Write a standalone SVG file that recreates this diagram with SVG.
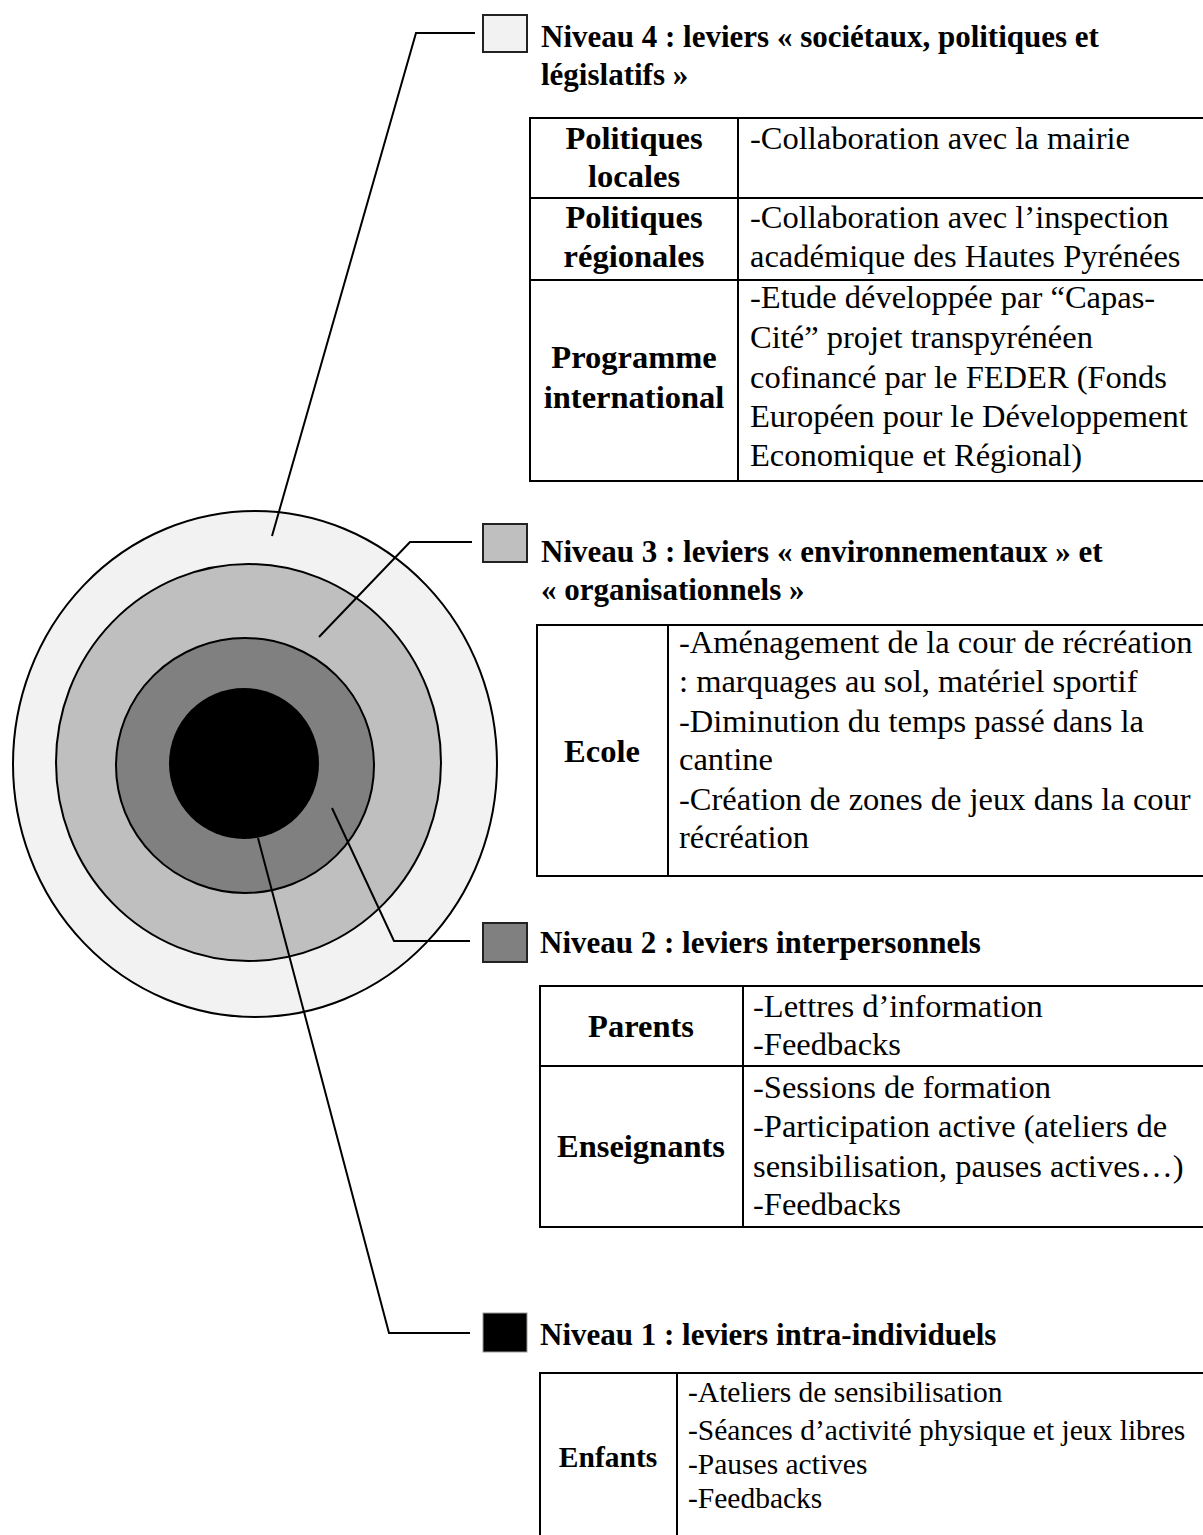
<svg xmlns="http://www.w3.org/2000/svg" width="1203" height="1535" viewBox="0 0 1203 1535">
<style>
.h{font-family:"Liberation Serif","Times New Roman",serif;font-weight:bold;font-size:31px;fill:#000}
.t{font-family:"Liberation Serif","Times New Roman",serif;font-size:32.5px;fill:#000}
.tb{font-family:"Liberation Serif","Times New Roman",serif;font-weight:bold;font-size:32.5px;fill:#000;text-anchor:middle}
.s{font-family:"Liberation Serif","Times New Roman",serif;font-size:29.5px;fill:#000}
.sb{font-family:"Liberation Serif","Times New Roman",serif;font-weight:bold;font-size:29.5px;fill:#000;text-anchor:middle}
.ring{stroke:#000;stroke-width:2}
.key{stroke:#222;stroke-width:2}
.tab{fill:#fff;stroke:#000;stroke-width:2}
.conn{fill:none;stroke:#000;stroke-width:2}
</style>
<rect width="1203" height="1535" fill="#fff"/>
<g id="rings">
<ellipse class="ring" cx="255" cy="764" rx="242" ry="253" fill="#f2f2f2"/>
<ellipse class="ring" cx="248.5" cy="762.5" rx="192.5" ry="198.5" fill="#bfbfbf"/>
<ellipse class="ring" cx="245" cy="765.5" rx="129" ry="127.5" fill="#808080"/>
<ellipse cx="244" cy="763.5" rx="75" ry="75.5" fill="#000"/>
</g>
<g id="connectors">
<polyline class="conn" points="475,33 416,33 272,536"/>
<polyline class="conn" points="472,542 410,542 319,637"/>
<polyline class="conn" points="470,941 394,941 332,808"/>
<polyline class="conn" points="470,1333 389,1333 258,838"/>
</g>
<g id="niveau4">
<rect class="key" x="483" y="15" width="44" height="37" fill="#f2f2f2"/>
<text class="h" x="541" y="47">Niveau 4 : leviers « sociétaux, politiques et</text>
<text class="h" x="541" y="85">législatifs »</text>
<rect class="tab" x="530" y="118" width="675" height="363"/>
<line class="conn" x1="530" y1="198" x2="1205" y2="198"/>
<line class="conn" x1="530" y1="280" x2="1205" y2="280"/>
<line class="conn" x1="738" y1="118" x2="738" y2="481"/>
<text class="tb" x="634" y="149">Politiques</text>
<text class="tb" x="634" y="187">locales</text>
<text class="t" x="750" y="149">-Collaboration avec la mairie</text>
<text class="tb" x="634" y="228">Politiques</text>
<text class="tb" x="634" y="267">régionales</text>
<text class="t" x="750" y="228">-Collaboration avec l’inspection</text>
<text class="t" x="750" y="267">académique des Hautes Pyrénées</text>
<text class="tb" x="634" y="368">Programme</text>
<text class="tb" x="634" y="408">international</text>
<text class="t" x="750" y="308">-Etude développée par “Capas-</text>
<text class="t" x="750" y="348">Cité” projet transpyrénéen</text>
<text class="t" x="750" y="388">cofinancé par le FEDER (Fonds</text>
<text class="t" x="750" y="427">Européen pour le Développement</text>
<text class="t" x="750" y="466">Economique et Régional)</text>
</g>
<g id="niveau3">
<rect class="key" x="483" y="524" width="44" height="38" fill="#bfbfbf"/>
<text class="h" x="541" y="562">Niveau 3 : leviers « environnementaux » et</text>
<text class="h" x="541" y="600">« organisationnels »</text>
<rect class="tab" x="537" y="625" width="668" height="251"/>
<line class="conn" x1="668" y1="625" x2="668" y2="876"/>
<text class="tb" x="602" y="762">Ecole</text>
<text class="t" x="679" y="653">-Aménagement de la cour de récréation</text>
<text class="t" x="679" y="692">: marquages au sol, matériel sportif</text>
<text class="t" x="679" y="732">-Diminution du temps passé dans la</text>
<text class="t" x="679" y="770">cantine</text>
<text class="t" x="679" y="810">-Création de zones de jeux dans la cour</text>
<text class="t" x="679" y="848">récréation</text>
</g>
<g id="niveau2">
<rect class="key" x="483" y="923" width="44" height="39" fill="#808080"/>
<text class="h" x="540" y="953">Niveau 2 : leviers interpersonnels</text>
<rect class="tab" x="540" y="986" width="665" height="241"/>
<line class="conn" x1="540" y1="1066" x2="1205" y2="1066"/>
<line class="conn" x1="743" y1="986" x2="743" y2="1227"/>
<text class="tb" x="641" y="1037">Parents</text>
<text class="t" x="753" y="1017">-Lettres d’information</text>
<text class="t" x="753" y="1055">-Feedbacks</text>
<text class="tb" x="641" y="1157">Enseignants</text>
<text class="t" x="753" y="1098">-Sessions de formation</text>
<text class="t" x="753" y="1137">-Participation active (ateliers de</text>
<text class="t" x="753" y="1177">sensibilisation, pauses actives…)</text>
<text class="t" x="753" y="1215">-Feedbacks</text>
</g>
<g id="niveau1">
<rect x="483" y="1313" width="44" height="39" fill="#000" stroke="#999" stroke-width="1"/>
<text class="h" x="540" y="1345">Niveau 1 : leviers intra-individuels</text>
<rect class="tab" x="540" y="1373" width="665" height="170"/>
<line class="conn" x1="677" y1="1373" x2="677" y2="1543"/>
<text class="sb" x="608" y="1467">Enfants</text>
<text class="s" x="688" y="1402">-Ateliers de sensibilisation</text>
<text class="s" x="688" y="1440">-Séances d’activité physique et jeux libres</text>
<text class="s" x="688" y="1474">-Pauses actives</text>
<text class="s" x="688" y="1508">-Feedbacks</text>
</g>
</svg>
